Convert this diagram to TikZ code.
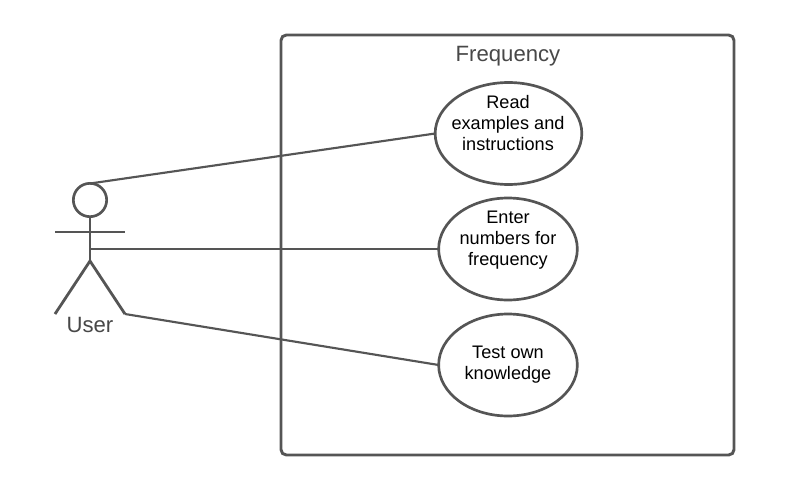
\documentclass[tikz,border=0pt]{standalone}
\usepackage{fontspec}
\setmainfont{Liberation Sans}
\usetikzlibrary{shapes.geometric}
\definecolor{ln}{RGB}{85,85,85}
\tikzset{
 x=0.75pt,y=-0.75pt,
 line/.style={draw=ln,line width=1.6pt},
 limb/.style={draw=ln,line width=2.1pt},
 usecase/.style={ellipse,draw=ln,line width=2pt,minimum height=76.5pt,inner sep=0pt,outer sep=0pt},
 ctext/.style={inner sep=0pt,align=center,font=\fontsize{13.6pt}{15.9pt}\selectfont,text=black},
 lab/.style={inner sep=0pt,text=ln!85!black,font=\fontsize{16.6pt}{18pt}\selectfont}
}
\begin{document}
\begin{tikzpicture}
\useasboundingbox (0,0) rectangle (786,483);
\fill[white] (0,0) rectangle (786,483);
\node[draw=ln,line width=2.2pt,rounded corners=4pt,minimum width=339.75pt,minimum height=315pt,inner sep=0pt,outer sep=0pt] (sys) at (507.5,245) {};
\node[lab] (title) at (508,56) {Frequency};
\node[usecase,minimum width=110pt] (a) at (508.5,133.5) {};
\node[usecase,minimum width=104pt] (b) at (508,249) {};
\node[usecase,minimum width=104pt] (c) at (508,365) {};
\node[ctext] (ta) at (508,123) {Read\\examples and\\instructions};
\node[ctext] (tb) at (508,240) {Enter\\numbers for\\frequency};
\node[ctext] (tc) at (508,365) {Test own\\knowledge};
\node[circle,draw=ln,line width=2pt,minimum size=25pt,inner sep=0pt,outer sep=0pt] (head) at (90,200) {};
\coordinate (hip) at (90,261);
\coordinate (armL) at (55,232);
\coordinate (armR) at (125,232);
\coordinate (legL) at (55,314);
\coordinate (legR) at (125,314);
\draw[limb] (head.south) -- (hip);
\draw[limb] (armL) -- (armR);
\draw[limb] (legL) -- (hip) -- (legR);
\node[lab] (user) at (90,325) {User};
\coordinate (headtop) at (90,183.5);
\coordinate (mid) at (90,249);
\draw[line] (headtop) -- (a.west);
\draw[line] (mid) -- (b.west);
\draw[line] (legR) -- (c.west);
\end{tikzpicture}
\end{document}
